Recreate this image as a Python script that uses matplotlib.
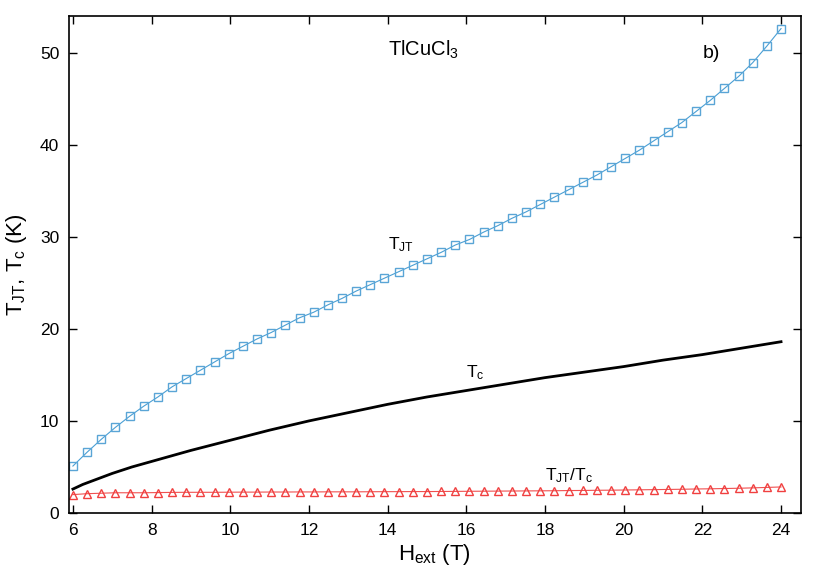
import matplotlib
matplotlib.use("Agg")
import matplotlib.pyplot as plt

plt.rcParams['font.family'] = ['Liberation Sans', 'DejaVu Sans']
plt.rcParams['mathtext.fontset'] = 'custom'
plt.rcParams['mathtext.rm'] = 'Liberation Sans'
plt.rcParams['mathtext.it'] = 'Liberation Sans'

# external field (T) for the marker series
hExt = [6.00, 6.36, 6.72, 7.08, 7.44, 7.80, 8.16, 8.52, 8.88, 9.24,
        9.60, 9.96, 10.32, 10.68, 11.04, 11.40, 11.76, 12.12, 12.48, 12.84,
        13.20, 13.56, 13.92, 14.28, 14.64, 15.00, 15.36, 15.72, 16.08, 16.44,
        16.80, 17.16, 17.52, 17.88, 18.24, 18.60, 18.96, 19.32, 19.68, 20.04,
        20.40, 20.76, 21.12, 21.48, 21.84, 22.20, 22.56, 22.92, 23.28, 23.64,
        24.00]

# T_JT (K)
tJT = [5.1, 6.6, 8.0, 9.3, 10.5, 11.6, 12.6, 13.7, 14.6, 15.5,
       16.4, 17.3, 18.1, 18.9, 19.6, 20.4, 21.2, 21.8, 22.6, 23.3,
       24.1, 24.8, 25.5, 26.2, 26.9, 27.6, 28.3, 29.1, 29.7, 30.5,
       31.2, 32.0, 32.7, 33.5, 34.3, 35.1, 35.9, 36.7, 37.6, 38.5,
       39.4, 40.4, 41.4, 42.4, 43.6, 44.8, 46.1, 47.4, 48.9, 50.7,
       52.6]

# T_JT / T_c
ratio = [2.0, 2.1, 2.15, 2.2, 2.2, 2.2, 2.22, 2.24, 2.25, 2.25,
         2.25, 2.26, 2.27, 2.27, 2.28, 2.28, 2.29, 2.29, 2.3, 2.3,
         2.3, 2.31, 2.32, 2.32, 2.33, 2.33, 2.34, 2.35, 2.36, 2.37,
         2.38, 2.39, 2.4, 2.41, 2.42, 2.44, 2.45, 2.47, 2.48, 2.5,
         2.52, 2.54, 2.56, 2.58, 2.61, 2.63, 2.66, 2.69, 2.73, 2.78,
         2.83]

# T_c curve
hTc = [6, 6.25, 6.5, 6.75, 7, 7.5, 8, 8.5, 9, 10, 11, 12, 13, 14, 15,
       16, 17, 18, 19, 20, 21, 22, 23, 24]
tc = [2.6, 3.1, 3.5, 3.9, 4.3, 5.0, 5.6, 6.2, 6.8, 7.9, 9.0, 10.0, 10.9,
      11.8, 12.6, 13.3, 14.0, 14.7, 15.3, 15.9, 16.6, 17.2, 17.9, 18.6]

fig = plt.figure(figsize=(8.3, 5.81), dpi=100)
ax = fig.add_axes([0.0831, 0.117, 0.8816, 0.856])

ax.plot(hExt, tJT, '-', color='#4a9fd4', lw=0.8, marker='s', ms=5.5,
        mfc='none', mec='#5aa5d6', mew=1.0)
ax.plot(hTc, tc, '-', color='black', lw=2.0)
ax.plot(hExt, ratio, '-', color='#f05050', lw=0.8, marker='^', ms=5.5,
        mfc='none', mec='#f04040', mew=1.0)

ax.text(14.0, 50.3, r'TlCuCl$_3$', fontsize=14.5, va='center', ha='left')
ax.text(22.0, 49.9, 'b)', fontsize=14, va='center', ha='left')
ax.text(14.0, 29.1, r'T$_{\mathrm{JT}}$', fontsize=12.5, va='center', ha='left')
ax.text(16.0, 15.2, r'T$_{\mathrm{c}}$', fontsize=12.5, va='center', ha='left')
ax.text(18.0, 4.1, r'T$_{\mathrm{JT}}$/T$_{\mathrm{c}}$', fontsize=12.5,
        va='center', ha='left')

ax.set_xlim(5.9, 24.5)
ax.set_ylim(0, 54)
ax.set_xticks([6, 8, 10, 12, 14, 16, 18, 20, 22, 24])
ax.set_yticks([0, 10, 20, 30, 40, 50])
ax.tick_params(direction='in', top=True, right=True, length=5.5, width=1,
               labelsize=12.5, pad=7)
for s in ax.spines.values():
    s.set_linewidth(1.2)

ax.set_xlabel(r'H$_{\mathrm{ext}}$ (T)', fontsize=16, labelpad=3)
ax.set_ylabel(r'T$_{\mathrm{JT}}$, T$_{\mathrm{c}}$ (K)', fontsize=16, labelpad=8)

fig.savefig('out.png', dpi=100)
